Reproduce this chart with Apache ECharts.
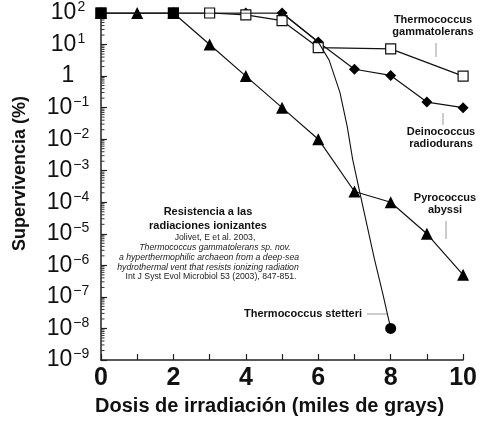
<!DOCTYPE html>
<html>
<head>
<meta charset="utf-8">
<script src="https://cdn.jsdelivr.net/npm/echarts@6/dist/echarts.min.js"></script>
<style>
html,body{margin:0;padding:0;background:#fff;}
#chart{width:480px;height:421px;}
</style>
</head>
<body>
<div id="chart"></div>
<script>
// ---- data ----
const xTicks = [0, 2, 4, 6, 8, 10];
const pyroX = [0, 1, 2, 3, 4, 5, 6, 7, 8, 9, 10];
const pyroY = [100, 100, 100, 10, 1, 0.1, 0.01, 2.2e-4, 1e-4, 1e-5, 5e-7];
const deinoX = [0, 2, 4, 5, 6, 7, 8, 9, 10];
const deinoY = [100, 100, 100, 100, 12, 1.65, 1.05, 0.15, 0.1];
const gammaX = [0, 2, 3, 4, 5, 6, 8, 10];
const gammaY = [100, 100, 100, 87, 57, 8, 7.3, 1.0];
const stettX = [0, 2, 4, 5, 6, 6.3, 6.6, 6.8, 6.95, 7.15, 7.35, 7.55, 7.78, 8];
const stettY = [100, 100, 100, 100, 12, 3.2, 0.3, 0.025, 0.0023, 2e-4, 1.8e-5, 1.6e-6, 1.3e-7, 1e-8];
const stettMarkers = ['rect', 'rect', 'none', 'none', 'none', 'none', 'none', 'none', 'none', 'none', 'none', 'none', 'none', 'circle'];
const seriesNames = ['Pyrococcus abyssi', 'Deinococcus radiodurans', 'Thermococcus gammatolerans', 'Thermococcus stetteri'];

const zip = (xs, ys) => xs.map((x, i) => [x, ys[i]]);
const minorVals = [];
for (let k = -9; k < 2; k++) for (let m = 2; m <= 9; m++) minorVals.push([0, m * Math.pow(10, k)]);

const FONT = 'Liberation Sans, Arial, Helvetica, sans-serif';
const chart = echarts.init(document.getElementById('chart'), null, {renderer: 'canvas'});

function supLabel(v) {
  const e = Math.round(Math.log10(v));
  if (e === 0) return '{b|1}';
  return '{b|10}{s|' + (e < 0 ? '\u2212' + (-e) : e) + '}';
}

const option = {
  animation: false,
  backgroundColor: '#fff',
  grid: {left: 101, right: 12, top: 13, bottom: 59, containLabel: false},
  xAxis: {
    type: 'value', min: 0, max: 10, interval: 2,
    name: 'Dosis de irradiación (miles de grays)',
    nameLocation: 'middle', nameGap: 36,
    nameTextStyle: {fontFamily: FONT, fontWeight: 'bold', fontSize: 20, color: '#111', padding: [0, 25, 0, 0]},
    axisLine: {lineStyle: {color: '#222', width: 1.5}},
    axisTick: {inside: true, length: 6, lineStyle: {color: '#222', width: 1.2}},
    minorTick: {show: true, splitNumber: 2, length: 6, lineStyle: {color: '#222', width: 1.2}},
    splitLine: {show: false},
    axisLabel: {fontFamily: FONT, fontWeight: 'bold', fontSize: 25, color: '#111', margin: 6,
      formatter: v => xTicks.includes(v) ? String(v) : ''}
  },
  yAxis: {
    type: 'log', logBase: 10, min: 1e-9, max: 100, interval: 1,
    name: 'Supervivencia (%)', nameLocation: 'middle', nameGap: 72, nameRotate: 90,
    nameTextStyle: {fontFamily: FONT, fontWeight: 'bold', fontSize: 18, color: '#111', padding: [0, 0, 0, 26]},
    axisLine: {show: true, lineStyle: {color: '#222', width: 1.5}},
    axisTick: {inside: true, length: 6, interval: 0, lineStyle: {color: '#222', width: 1.2}},
    splitLine: {show: false},
    axisLabel: {
      margin: 33, align: 'center', color: '#111', interval: 0, hideOverlap: false,
      formatter: supLabel,
      rich: {
        b: {fontFamily: FONT, fontSize: 23, color: '#111'},
        s: {fontFamily: FONT, fontSize: 14, color: '#111', padding: [0, 0, 11, 1]}
      }
    }
  },
  graphic: [
    // annotation block
    {type: 'text', x: 208, y: 212, style: {text: 'Resistencia a las', font: 'bold 11px ' + FONT, fill: '#111', align: 'center', verticalAlign: 'middle'}},
    {type: 'text', x: 208, y: 226, style: {text: 'radiaciones ionizantes', font: 'bold 11px ' + FONT, fill: '#111', align: 'center', verticalAlign: 'middle'}},
    {type: 'text', x: 215, y: 238, style: {text: 'Jolivet, E et al. 2003,', font: '8.7px ' + FONT, fill: '#222', align: 'center', verticalAlign: 'middle'}},
    {type: 'text', x: 215, y: 248, style: {text: 'Thermococcus gammatolerans sp. nov.', font: 'italic 8.7px ' + FONT, fill: '#222', align: 'center', verticalAlign: 'middle'}},
    {type: 'text', x: 209, y: 258, style: {text: 'a hyperthermophilic archaeon from a deep-sea', font: 'italic 8.7px ' + FONT, fill: '#222', align: 'center', verticalAlign: 'middle'}},
    {type: 'text', x: 208, y: 268, style: {text: 'hydrothermal vent that resists ionizing radiation', font: 'italic 8.7px ' + FONT, fill: '#222', align: 'center', verticalAlign: 'middle'}},
    {type: 'text', x: 211, y: 277, style: {text: 'Int J Syst Evol Microbiol 53 (2003), 847-851.', font: '8.7px ' + FONT, fill: '#222', align: 'center', verticalAlign: 'middle'}},
    // series labels
    {type: 'text', x: 433, y: 20, style: {text: 'Thermococcus', font: 'bold 11px ' + FONT, fill: '#111', align: 'center', verticalAlign: 'middle'}},
    {type: 'text', x: 433, y: 32, style: {text: 'gammatolerans', font: 'bold 11px ' + FONT, fill: '#111', align: 'center', verticalAlign: 'middle'}},
    {type: 'line', shape: {x1: 436, y1: 43, x2: 436, y2: 57}, style: {stroke: '#999', lineWidth: 1}},
    {type: 'text', x: 441, y: 132, style: {text: 'Deinococcus', font: 'bold 11px ' + FONT, fill: '#111', align: 'center', verticalAlign: 'middle'}},
    {type: 'text', x: 441, y: 144, style: {text: 'radiodurans', font: 'bold 11px ' + FONT, fill: '#111', align: 'center', verticalAlign: 'middle'}},
    {type: 'line', shape: {x1: 443, y1: 113, x2: 443, y2: 125}, style: {stroke: '#999', lineWidth: 1}},
    {type: 'text', x: 445, y: 198, style: {text: 'Pyrococcus', font: 'bold 11px ' + FONT, fill: '#111', align: 'center', verticalAlign: 'middle'}},
    {type: 'text', x: 445, y: 210, style: {text: 'abyssi', font: 'bold 11px ' + FONT, fill: '#111', align: 'center', verticalAlign: 'middle'}},
    {type: 'line', shape: {x1: 446, y1: 221, x2: 446, y2: 239}, style: {stroke: '#999', lineWidth: 1}},
    {type: 'text', x: 362, y: 314, style: {text: 'Thermococcus stetteri', font: 'bold 11px ' + FONT, fill: '#111', align: 'right', verticalAlign: 'middle'}},
    {type: 'line', shape: {x1: 367, y1: 314, x2: 387, y2: 314}, style: {stroke: '#999', lineWidth: 1}}
  ],
  series: [
    {
      type: 'custom', name: 'minorTicks', silent: true, z: 1,
      data: minorVals,
      renderItem: (params, api) => {
        const p = api.coord([0, api.value(1)]);
        return {type: 'line', shape: {x1: p[0], y1: p[1], x2: p[0] + 3.5, y2: p[1]}, style: {stroke: '#333', lineWidth: 1}};
      }
    },
    {
      name: seriesNames[0], type: 'line', data: zip(pyroX, pyroY),
      symbol: 'triangle', symbolSize: 12,
      lineStyle: {color: '#111', width: 1.2},
      itemStyle: {color: '#000', borderWidth: 0}, z: 3
    },
    {
      name: seriesNames[1], type: 'line', data: zip(deinoX, deinoY),
      symbol: 'diamond', symbolSize: 11,
      lineStyle: {color: '#111', width: 1.2},
      itemStyle: {color: '#000', borderWidth: 0}, z: 4
    },
    {
      name: seriesNames[2], type: 'line', data: zip(gammaX, gammaY),
      symbol: 'rect', symbolSize: 10,
      lineStyle: {color: '#111', width: 1.2},
      itemStyle: {color: '#fff', borderColor: '#111', borderWidth: 1.2}, z: 5
    },
    {
      name: seriesNames[3], type: 'line', smooth: false,
      data: stettX.map((x, i) => ({value: [x, stettY[i]], symbol: stettMarkers[i]})),
      symbolSize: 11,
      lineStyle: {color: '#111', width: 1.1},
      itemStyle: {color: '#000', borderWidth: 0}, z: 6
    }
  ]
};
chart.setOption(option);
</script>
</body>
</html>
